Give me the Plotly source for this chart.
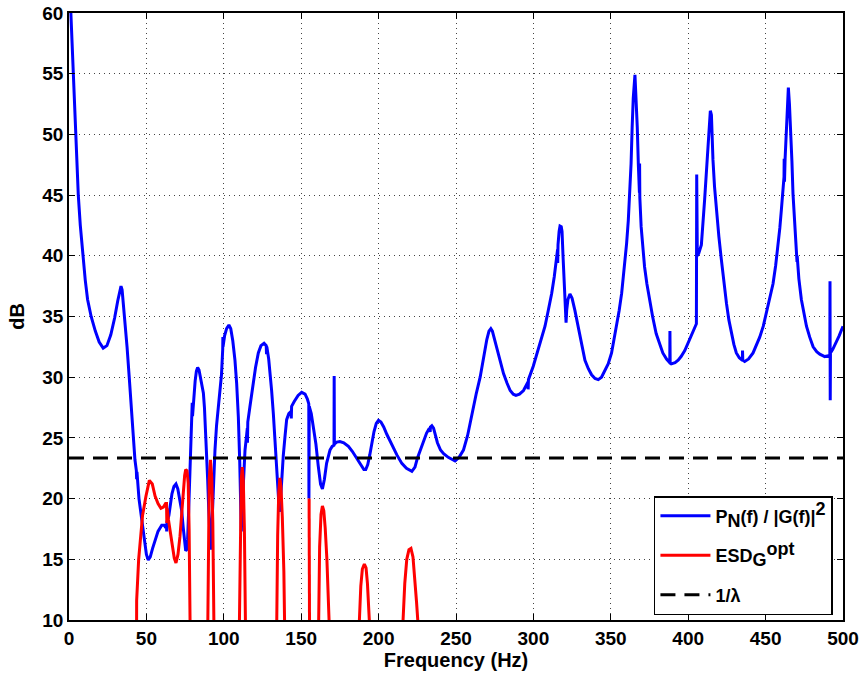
import plotly.graph_objects as go

# ---- data ----
freq_pn = [0.8, 1.2, 2.0, 2.8, 3.4, 4.1, 5.0, 6.0, 7.3, 8.9, 10.5, 12.0, 14.3, 17.0, 19.5, 22.1,
           24.5, 27.0, 29.5, 31.5, 33.0, 33.6, 34.3, 35.2, 36.2, 37.5, 38.9, 40.2, 41.5, 42.6,
           43.5, 43.7, 43.9, 45.2, 46.9, 48.5, 50.0, 51.2, 52.5, 54.0, 55.6, 57.5, 59.9, 61.5,
           62.5, 63.0, 63.1, 63.3, 64.5, 65.5, 66.5, 67.8, 69.1, 70.3, 71.5, 72.8, 73.8, 74.7,
           75.4, 76.0, 76.6, 77.3, 78.0, 78.6, 79.5, 79.6, 79.8, 80.5, 81.5, 82.3, 83.1, 84.0,
           85.0, 86.0, 86.8, 87.5, 88.3, 88.9, 89.6, 90.3, 91.0, 91.5, 92.0, 92.8, 93.5, 94.3,
           95.3, 96.5, 97.5, 98.5, 99.3, 99.4, 99.5, 100.5, 101.8, 103.3, 104.5, 105.8, 107.2,
           108.3, 109.4, 110.3, 110.9, 111.3, 111.8, 112.6, 113.7, 114.8, 115.2, 115.3, 115.5,
           116.8, 118.0, 119.0, 120.5, 122.3, 124.0, 126.0, 127.4, 127.6, 127.8, 129.0, 130.0,
           130.9, 132.0, 133.0, 134.0, 135.0, 135.9, 136.8, 137.5, 138.4, 139.6, 140.6, 142.0,
           143.5, 143.6, 143.8, 145.5, 148.0, 150.3, 152.5, 154.0, 154.9, 155.0, 155.2, 156.5,
           157.8, 159.5, 161.0, 162.5, 163.7, 165.0, 166.4, 167.5, 168.6, 170.0, 171.2, 171.3,
           171.45, 173.0, 175.0, 177.5, 180.5, 183.0, 185.9, 188.5, 190.5, 191.7, 193.0, 194.3,
           195.6, 197.0, 198.5, 199.9, 201.5, 203.3, 205.3, 208.5, 211.8, 215.0, 218.0, 221.5,
           223.5, 225.0, 226.9, 229.0, 231.0, 232.8, 233.3, 233.5, 234.4, 235.5, 236.8, 238.0,
           240.0, 242.0, 245.0, 249.4, 252.0, 254.8, 257.5, 260.2, 263.0, 265.6, 268.0, 269.9,
           271.3, 272.5, 273.5, 274.8, 276.4, 278.5, 280.7, 283.0, 285.0, 287.0, 288.7, 291.0,
           293.6, 296.5, 296.6, 296.8, 299.9, 302.0, 304.2, 307.5, 309.6, 311.8, 313.5, 315.1,
           315.6, 315.7, 315.9, 316.6, 317.2, 318.0, 318.5, 319.2, 319.9, 320.6, 321.1, 321.5,
           322.3, 323.6, 325.0, 326.8, 328.5, 330.0, 331.7, 333.3, 335.5, 337.6, 339.8, 341.9,
           344.0, 346.2, 348.3, 350.5, 352.0, 353.7, 355.4, 357.0, 358.7, 360.2, 361.3, 362.3,
           363.1, 363.8, 364.5, 365.6, 366.4, 367.1, 367.8, 368.5, 368.6, 368.75, 369.6, 370.6,
           371.8, 373.3, 375.0, 377.0, 379.3, 381.5, 383.6, 386.0, 388.1, 388.2, 388.35, 389.0,
           391.5, 393.5, 395.4, 397.8, 398.8, 401.2, 403.0, 404.8, 405.3, 405.5, 405.9, 406.8,
           408.5, 410.6, 412.0, 412.8, 413.6, 414.3, 415.0, 415.4, 415.6, 415.7, 416.0, 417.0,
           418.2, 419.8, 421.4, 423.0, 424.7, 426.3, 427.9, 429.5, 431.1, 433.0, 435.0, 435.1,
           435.25, 436.5, 439.0, 441.9, 444.0, 446.2, 448.5, 450.5, 452.7, 454.8, 456.5, 458.1,
           459.2, 460.2, 461.0, 461.9, 462.0, 462.2, 462.6, 463.0, 463.8, 464.7, 465.4, 466.2,
           467.0, 467.7, 468.8, 469.9, 470.3, 470.4, 471.5, 473.1, 474.7, 476.4, 478.5, 480.7,
           483.0, 485.0, 488.2, 490.0, 491.5, 491.6, 491.75, 491.9, 493.4, 494.9, 497.5, 500.0]
db_pn = [64.0, 60.0, 57.5, 55.0, 52.5, 50.0, 47.5, 45.0, 42.5, 40.0, 38.0, 36.4, 35.0, 33.8, 32.9, 32.4,
         32.6, 33.5, 34.9, 36.3, 37.3, 37.5, 37.2, 36.0, 34.5, 32.5, 30.0, 27.3, 24.8, 23.2,
         22.3, 21.6, 22.2, 20.0, 18.2, 16.6, 15.4, 14.95, 15.2, 15.9, 16.6, 17.3, 17.8, 17.8,
         17.6, 17.8, 17.3, 18.1, 18.6, 19.5, 20.4, 21.0, 21.2, 20.8, 20.0, 19.0, 17.6, 16.2,
         15.7, 15.8, 16.6, 19.0, 21.5, 23.5, 26.0, 27.9, 26.8, 28.3, 29.7, 30.5, 30.8, 30.6,
         30.0, 29.2, 28.7, 27.5, 25.5, 24.0, 21.5, 19.0, 16.8, 15.8, 16.8, 19.5, 22.0, 24.0,
         26.0, 27.8, 29.0, 30.2, 32.3, 33.3, 32.5, 33.4, 34.0, 34.3, 34.0, 33.0, 31.4,
         29.5, 26.7, 23.0, 19.5, 17.3, 19.0, 21.8, 24.0, 25.3, 25.8, 24.6, 26.3,
         27.5, 28.6, 29.5, 30.8, 32.0, 32.6, 32.8, 32.6, 31.9, 32.5, 31.5, 30.3,
         28.9, 27.0, 24.8, 22.5, 20.3, 18.9, 20.2, 21.8, 23.5, 25.2, 26.5, 27.0,
         27.2, 26.6, 27.6, 28.0, 28.5, 28.75, 28.6, 28.2, 27.8, 20.0, 27.6, 27.0,
         26.0, 24.5, 22.7, 21.2, 20.8, 21.6, 22.9, 23.6, 24.0, 24.3, 24.4, 30.1,
         24.5, 24.65, 24.7, 24.6, 24.3, 23.9, 23.3, 22.7, 22.4, 22.4, 22.8, 23.6,
         24.6, 25.5, 26.2, 26.45, 26.3, 25.9, 25.3, 24.4, 23.6, 22.9, 22.5, 22.25,
         22.6, 23.3, 24.0, 24.8, 25.4, 25.8, 25.5, 25.9, 26.0, 25.8, 25.2, 24.6,
         24.0, 23.7, 23.4, 23.1, 23.4, 24.0, 25.2, 27.0, 28.6, 30.0, 31.8, 33.1,
         33.8, 34.0, 33.8, 33.2, 32.5, 31.4, 30.3, 29.5, 28.9, 28.6, 28.5, 28.6,
         28.9, 29.6, 29.0, 29.8, 30.9, 31.8, 32.8, 34.2, 35.5, 36.9, 38.3, 39.7,
         40.5, 39.4, 40.9, 42.0, 42.45, 42.4, 42.0, 39.8, 37.4, 36.6, 34.5, 35.5,
         36.4, 36.85, 36.5, 35.5, 34.4, 33.3, 32.2, 31.4, 30.7, 30.2, 29.9, 29.8,
         30.0, 30.5, 31.1, 32.0, 33.0, 34.2, 35.5, 36.9, 38.9, 41.0, 42.9, 45.1,
         47.6, 50.6, 53.0, 54.9, 53.0, 50.6, 47.5, 45.2, 47.6, 44.8, 42.4, 40.6,
         39.1, 37.7, 36.4, 35.0, 33.6, 32.7, 32.0, 31.5, 31.2, 33.8, 31.15, 31.1,
         31.2, 31.4, 31.7, 32.2, 32.5, 33.2, 33.8, 34.3, 34.4, 46.7, 40.0, 40.2,
         40.9, 44.6, 47.5, 49.3, 51.0, 51.95, 51.6, 50.0, 50.8, 49.8, 47.9, 45.7,
         43.8, 41.6, 39.7, 37.8, 36.1, 34.7, 33.6, 32.7, 32.0, 31.6, 31.4, 32.2,
         31.4, 31.3, 31.5, 32.0, 32.6, 33.3, 34.2, 35.3, 36.5, 37.7, 39.2, 40.8,
         42.3, 43.8, 45.4, 46.5, 48.0, 46.1, 48.0, 49.3, 51.8, 53.85, 52.5, 50.6,
         47.8, 45.1, 42.5, 40.2, 39.5, 40.0, 38.1, 36.4, 35.2, 34.2, 33.3, 32.5,
         32.1, 31.9, 31.7, 31.75, 31.8, 37.9, 28.1, 32.0, 32.3, 32.7, 33.4, 34.2]

freq_esd = [43.6, 43.7, 45.0, 45.9, 47.5, 49.7, 51.9, 53.8, 55.6, 57.5, 59.4, 61.0, 62.4, 63.0, 63.2,
            63.4, 64.2, 66.3, 68.0, 69.1, 70.4, 71.7, 72.8, 73.8, 74.7, 75.4, 76.2, 77.0, 77.6,
            78.2, 78.4, None,
            89.3, 89.7, 90.1, 90.6, 91.4, 92.2, 92.9, 93.5, 93.8, 94.0, None,
            109.6, 110.0, 110.6, 111.3, 111.9, 112.6, 113.3, 113.8, 114.1, 114.4, None,
            133.8, 134.1, 134.8, 135.5, 136.2, 136.9, 137.8, 138.8, 139.5, 139.8, None,
            155.1, 155.3, 155.5, None,
            160.8, 161.1, 161.9, 162.8, 163.7, 164.6, 165.5, 166.6, 167.5, 168.0, 168.3, None,
            187.3, 187.6, 188.5, 189.5, 190.8, 191.9, 192.8, 193.6, 194.0, 194.3, None,
            215.5, 215.8, 216.9, 218.2, 219.6, 220.9, 222.2, 223.4, 224.5, 225.3, 225.6]
db_esd = [5.0, 11.6, 15.0, 16.6, 18.6, 20.2, 21.5, 21.2, 20.2, 19.6, 19.2, 19.3, 19.6, 19.6, 18.0,
          19.2, 18.3, 16.3, 15.1, 14.7, 15.4, 16.9, 18.8, 20.7, 21.9, 22.4, 22.3, 21.3, 17.5,
          10.0, 5.0, None,
          5.0, 10.0, 18.0, 21.6, 23.2, 21.8, 18.0, 12.5, 9.0, 5.0, None,
          5.0, 10.0, 18.0, 21.6, 22.6, 21.5, 17.5, 12.5, 9.0, 5.0, None,
          5.0, 10.0, 17.0, 20.5, 21.7, 21.0, 18.5, 14.0, 10.0, 5.0, None,
          20.0, 12.0, 5.0, None,
          5.0, 10.0, 16.0, 18.7, 19.4, 19.0, 17.6, 15.0, 12.0, 10.0, 5.0, None,
          5.0, 10.0, 12.8, 14.2, 14.6, 14.3, 13.0, 11.0, 10.0, 5.0, None,
          5.0, 10.0, 13.0, 15.0, 15.8, 15.9, 15.2, 13.5, 11.5, 10.0, 5.0]

freq_lambda = [0, 500]
db_lambda = [23.35, 23.35]

x_ticks = [0, 50, 100, 150, 200, 250, 300, 350, 400, 450, 500]
y_ticks = [10, 15, 20, 25, 30, 35, 40, 45, 50, 55, 60]

names = ["P<sub><span style='font-size:18px'>N</span></sub>(f) / |G(f)|"
         "<sup><span style='font-size:18px'>2</span></sup>",
         "ESD<sub><span style='font-size:18px'>G</span></sub>"
         "<sup><span style='font-size:18px'>opt</span></sup>",
         "1/λ"]

FONT = "Liberation Sans, Arial, Helvetica, sans-serif"

fig = go.Figure()
fig.add_trace(go.Scatter(x=freq_pn, y=db_pn, mode="lines",
                         line=dict(color="#0000ff", width=3),
                         name=names[0], legendgroup="a"))
fig.add_trace(go.Scatter(x=freq_esd, y=db_esd, mode="lines",
                         line=dict(color="#ff0000", width=3),
                         name=names[1], connectgaps=False, legendgroup="b"))
fig.add_trace(go.Scatter(x=freq_lambda, y=db_lambda, mode="lines",
                         line=dict(color="#000000", width=3, dash="15px,9px"),
                         name=names[2], legendgroup="c"))

axis_common = dict(
    showline=True, linecolor="black", linewidth=1.5, mirror="ticks",
    ticks="inside", ticklen=6, tickcolor="black", tickwidth=1,
    showgrid=True, gridcolor="#444444", gridwidth=1, griddash="1px,4px",
    zeroline=False, automargin=False,
    tickfont=dict(family=FONT, size=19, color="black", weight="bold"),
)

fig.update_xaxes(range=[0, 500], tickvals=x_ticks, **axis_common,
                 title=dict(text="Frequency (Hz)", standoff=4,
                            font=dict(family=FONT, size=20, color="black", weight="bold")))
fig.update_yaxes(range=[10, 60], tickvals=y_ticks, **axis_common,
                 title=dict(text="dB", standoff=12,
                            font=dict(family=FONT, size=20, color="black", weight="bold")))

fig.update_layout(
    width=865, height=681,
    margin=dict(l=69, r=22, t=13, b=61, autoexpand=False),
    paper_bgcolor="white", plot_bgcolor="white",
    showlegend=True,
    legend=dict(x=0.987, y=0.008, xanchor="right", yanchor="bottom",
                bgcolor="white", bordercolor="black", borderwidth=1.5,
                font=dict(family=FONT, size=18, color="black", weight="bold"),
                tracegroupgap=13, traceorder="grouped", itemwidth=50),
)

fig.write_html("out.html")
